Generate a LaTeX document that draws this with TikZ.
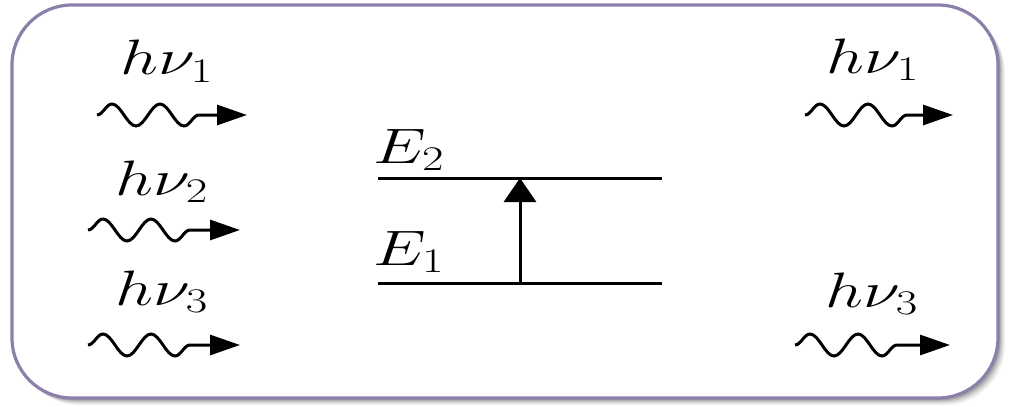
\documentclass[tikz,border=0pt]{standalone}
\usetikzlibrary{decorations.pathmorphing,arrows.meta}
\definecolor{boxline}{RGB}{140,128,170}
\tikzset{
  photon/.style={line width=1.5pt, -{Triangle[length=15pt,width=10pt]},
    decorate, decoration={snake, segment length=24pt, amplitude=5.5pt, post length=15pt}},
  lbl/.style={anchor=base west, inner sep=0pt, font=\fontsize{24}{28}\selectfont},
  level/.style={line width=1.5pt},
}
\newcommand{\wide}[1]{\scalebox{1.35}[1]{#1}}
\begin{document}
\begin{tikzpicture}[x=0.5pt,y=-0.5pt]
\useasboundingbox (0,0) rectangle (1013,407);
% shadow
\foreach \o/\a in {7/0.06,5.5/0.08,4/0.12,2.5/0.15}{
  \fill[black,opacity=\a,rounded corners=30pt] (12+\o,5+\o) rectangle (998+\o,398+\o);}
\filldraw[fill=white,draw=boxline,line width=1.6pt,rounded corners=30pt] (12,5) rectangle (998,398);
% labels
\node[lbl] (l1) at (120,75) {\wide{$h\nu_1$}};
\node[lbl] (l2) at (115,195) {\wide{$h\nu_2$}};
\node[lbl] (l3) at (115,305) {\wide{$h\nu_3$}};
\node[lbl] (r1) at (826,73) {\wide{$h\nu_1$}};
\node[lbl] (r3) at (825,307) {\wide{$h\nu_3$}};
\node[lbl] (E2) at (373,163) {\wide{$E_2$}};
\node[lbl] (E1) at (373,265) {\wide{$E_1$}};
% photons
\coordinate (a1) at (97,115);  \coordinate (b1) at (247,115);
\coordinate (a2) at (88,230);  \coordinate (b2) at (240,230);
\coordinate (a3) at (88,345);  \coordinate (b3) at (240,345);
\coordinate (c1) at (805,115); \coordinate (d1) at (953,115);
\coordinate (c3) at (795,345); \coordinate (d3) at (950,345);
\draw[photon] (a1) -- (b1);
\draw[photon] (a2) -- (b2);
\draw[photon] (a3) -- (b3);
\draw[photon] (c1) -- (d1);
\draw[photon] (c3) -- (d3);
% levels
\coordinate (e2l) at (378,178); \coordinate (e2r) at (662,178);
\coordinate (e1l) at (378,283); \coordinate (e1r) at (662,283);
\coordinate (e1m) at (520,283); \coordinate (e2m) at (520,178);
\draw[level] (e2l) -- (e2r);
\draw[level] (e1l) -- (e1r);
\draw[level,-{Triangle[length=12pt,width=16pt]}] (e1m) -- (e2m);
\end{tikzpicture}
\end{document}
